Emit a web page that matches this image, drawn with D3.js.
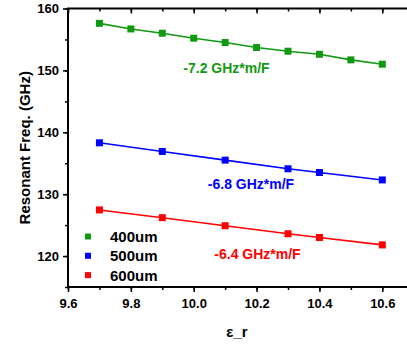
<!DOCTYPE html>
<html>
<head>
<meta charset="utf-8">
<script src="https://cdn.jsdelivr.net/npm/d3@7"></script>
<style>
  body { margin: 0; background: #fff; }
  svg { display: block; font-family: Arial, "Liberation Sans", sans-serif; }
</style>
</head>
<body>
<script>
// data
const epsR400 = [9.7, 9.8, 9.9, 10.0, 10.1, 10.2, 10.3, 10.4, 10.5, 10.6];
const freq400 = [157.6, 156.7, 156.0, 155.2, 154.5, 153.7, 153.1, 152.6, 151.7, 151.0];
const epsR500 = [9.7, 9.9, 10.1, 10.3, 10.4, 10.6];
const freq500 = [138.3, 136.9, 135.5, 134.1, 133.5, 132.3];
const epsR600 = [9.7, 9.9, 10.1, 10.3, 10.4, 10.6];
const freq600 = [127.45, 126.2, 124.9, 123.6, 123.0, 121.8];
const seriesNames = ['400um', '500um', '600um'];
const slopeLabels = ['-7.2 GHz*m/F', '-6.8 GHz*m/F', '-6.4 GHz*m/F'];
const xTicks = [9.6, 9.8, 10.0, 10.2, 10.4, 10.6];
const yTicks = [120, 130, 140, 150, 160];

const colors = ['#119a11', '#0000ff', '#ff0000'];

const W = 407, H = 346;
const margin = { top: 8.5, left: 68, bottom: 59 };

const x = d3.scaleLinear().domain([9.6, 10.6]).range([margin.left, 382.3]);
const y = d3.scaleLinear().domain([115, 160]).range([H - margin.bottom, margin.top]);
const xMax = 10.72;

const svg = d3.select('body').append('svg')
    .attr('width', W)
    .attr('height', H);

const series = [
    { name: seriesNames[0], xs: epsR400, ys: freq400 },
    { name: seriesNames[1], xs: epsR500, ys: freq500 },
    { name: seriesNames[2], xs: epsR600, ys: freq600 },
].map((s, i) => ({ ...s, color: colors[i], pts: s.xs.map((v, j) => ({ x: v, y: s.ys[j] })) }));

// axes
const minorX = d3.range(9.6, 10.75, 0.1);
const minorY = d3.range(115, 160.1, 5);

const bottomMinor = svg.append('g').attr('transform', `translate(0,${y(115)})`)
    .call(d3.axisBottom(x).tickValues(minorX).tickSize(3).tickFormat(''));
bottomMinor.select('.domain').remove();
const bottomMajor = svg.append('g').attr('transform', `translate(0,${y(115)})`)
    .call(d3.axisBottom(x).tickValues(xTicks).tickSize(5).tickPadding(7).tickFormat(d3.format('.1f')));
bottomMajor.select('.domain').remove();

const topMinor = svg.append('g').attr('transform', `translate(0,${y(160)})`)
    .call(d3.axisBottom(x).tickValues(minorX).tickSize(3).tickFormat(''));
topMinor.select('.domain').remove();
const topMajor = svg.append('g').attr('transform', `translate(0,${y(160)})`)
    .call(d3.axisBottom(x).tickValues(xTicks).tickSize(5).tickFormat(''));
topMajor.select('.domain').remove();

const leftMinor = svg.append('g').attr('transform', `translate(${margin.left},0)`)
    .call(d3.axisLeft(y).tickValues(minorY).tickSize(3).tickFormat(''));
leftMinor.select('.domain').remove();
const leftMajor = svg.append('g').attr('transform', `translate(${margin.left},0)`)
    .call(d3.axisLeft(y).tickValues(yTicks).tickSize(5).tickPadding(4));
leftMajor.select('.domain').remove();

svg.selectAll('.tick line').attr('stroke', '#000').attr('stroke-width', 1.5);
svg.selectAll('.tick text')
    .attr('fill', '#000')
    .style('font-size', '13px')
    .style('font-weight', 'bold');

// frame
svg.append('path')
    .attr('d', `M${x(xMax)},${y(160)}H${x(9.6)}V${y(115)}H${x(xMax)}`)
    .attr('fill', 'none')
    .attr('stroke', '#000')
    .attr('stroke-width', 2);

// series
const line = d3.line().x(d => x(d.x)).y(d => y(d.y));
series.forEach(s => {
    svg.append('path')
        .datum(s.pts)
        .attr('fill', 'none')
        .attr('stroke', s.color)
        .attr('stroke-width', 1.6)
        .attr('d', line);
    svg.append('g').selectAll('rect')
        .data(s.pts)
        .join('rect')
        .attr('x', d => x(d.x) - 3.5)
        .attr('y', d => y(d.y) - 3.5)
        .attr('width', 7)
        .attr('height', 7)
        .attr('fill', s.color);
});

// slope annotations
const slopePos = [[226.5, 73], [251, 188.5], [257.5, 258.5]];
slopeLabels.forEach((t, i) => {
    svg.append('text')
        .attr('x', slopePos[i][0])
        .attr('y', slopePos[i][1])
        .attr('text-anchor', 'middle')
        .attr('fill', colors[i])
        .style('font-size', '14px')
        .style('font-weight', 'bold')
        .text(t);
});

// legend
const legend = svg.append('g').attr('transform', 'translate(88,236.5)');
series.forEach((s, i) => {
    const g = legend.append('g').attr('transform', `translate(0,${i * 19.3})`);
    g.append('rect').attr('x', -3).attr('y', -3).attr('width', 6).attr('height', 6).attr('fill', s.color);
    g.append('text')
        .attr('x', 22)
        .attr('y', 5.5)
        .attr('fill', '#000')
        .style('font-size', '15px')
        .style('font-weight', 'bold')
        .text(s.name);
});

// axis titles
svg.append('text')
    .attr('x', 237)
    .attr('y', 337)
    .attr('text-anchor', 'middle')
    .style('font-size', '15px')
    .style('font-weight', 'bold')
    .text('ε_r');

svg.append('text')
    .attr('transform', `translate(30,${(y(160) + y(115)) / 2}) rotate(-90)`)
    .attr('text-anchor', 'middle')
    .style('font-size', '15px')
    .style('font-weight', 'bold')
    .text('Resonant Freq. (GHz)');
</script>
</body>
</html>
